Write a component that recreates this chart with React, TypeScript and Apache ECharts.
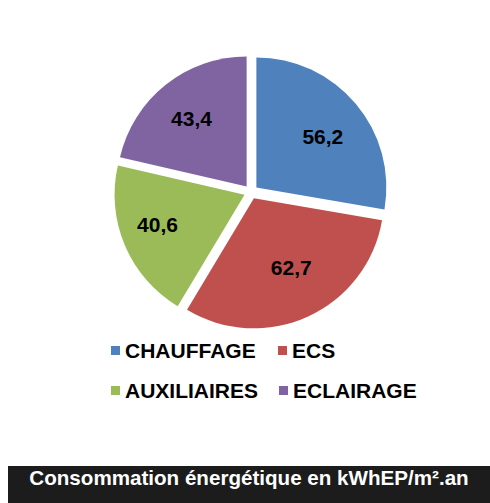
import React, { useEffect, useRef } from "react";
import * as echarts from "echarts";

const categories = ["CHAUFFAGE", "ECS", "AUXILIAIRES", "ECLAIRAGE"];
const values = [56.2, 62.7, 40.6, 43.4];
const colors = ["#4F81BD", "#C0504D", "#9BBB59", "#8064A2"];
const titleText = "Consommation énergétique en kWhEP/m².an";

const FONT = "'Liberation Sans', Arial, Helvetica, sans-serif";
// small nudges of the in-slice value labels (style only)
const labelNudges = [
  [0, 5],
  [1, -10],
  [-7, -4],
  [-1, 0],
];

export default function App() {
  const ref = useRef<HTMLDivElement>(null);
  useEffect(() => {
    if (!ref.current) return;
    const chart = echarts.init(ref.current, null, { renderer: "svg" });
    const center = [251, 192];
    const radius = 130;
    const offset = 7;
    const sliceData = categories.map((name, i) => ({
      name,
      value: values[i],
      selected: true,
      itemStyle: { color: colors[i] },
    }));
    const labelData = categories.map((name, i) => ({
      name,
      value: values[i],
      selected: true,
      itemStyle: { color: "rgba(0,0,0,0)" },
    }));
    const legendPos = [
      [111, 340],
      [278, 340],
      [111, 380],
      [279, 380],
    ];
    const legends = categories.map((name, i) => ({
      data: [name],
      left: legendPos[i][0],
      top: legendPos[i][1],
      padding: 0,
      itemGap: 0,
      icon: "rect",
      itemWidth: 9,
      itemHeight: 9,
      selectedMode: false,
      textStyle: {
        fontFamily: FONT,
        fontWeight: "bold",
        fontSize: 21,
        color: "#000",
        lineHeight: 21,
      },
    }));
    chart.setOption({
      animation: false,
      backgroundColor: "#fff",
      legend: legends,
      graphic: [
        {
          type: "rect",
          shape: { x: 8, y: 466, width: 490, height: 40 },
          style: { fill: "#1c1c1c" },
          silent: true,
        },
        {
          type: "text",
          x: 249,
          y: 477,
          style: {
            text: titleText,
            textAlign: "center",
            textVerticalAlign: "middle",
            fill: "#fff",
            font: `bold 20.6px ${FONT}`,
          },
        },
      ],
      series: [
        {
          type: "pie",
          center,
          radius,
          startAngle: 90,
          clockwise: true,
          selectedMode: "multiple",
          selectedOffset: offset,
          label: { show: false },
          labelLine: { show: false },
          emphasis: { disabled: true },
          data: sliceData,
        },
        {
          type: "pie",
          center,
          radius: [42, 126],
          startAngle: 90,
          clockwise: true,
          selectedMode: "multiple",
          selectedOffset: offset,
          silent: true,
          emphasis: { disabled: true },
          label: {
            show: true,
            position: "inside",
            formatter: (p: any) => p.value.toFixed(1).replace(".", ","),
            fontFamily: FONT,
            fontWeight: "bold",
            fontSize: 21,
            color: "#000",
          },
          labelLayout: (p: any) => ({
            dx: labelNudges[p.dataIndex][0],
            dy: labelNudges[p.dataIndex][1],
          }),
          labelLine: { show: false },
          data: labelData,
        },
      ],
    });
    return () => chart.dispose();
  }, []);
  return (
    <div
      ref={ref}
      style={{ position: "absolute", left: 0, top: 0, width: 490, height: 503 }}
    />
  );
}
